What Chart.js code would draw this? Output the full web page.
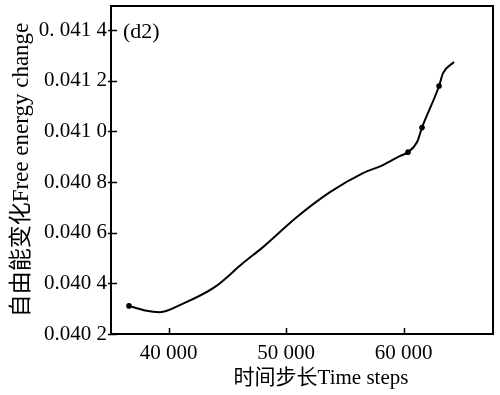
<!DOCTYPE html>
<html><head><meta charset="utf-8">
<script src="https://cdn.jsdelivr.net/npm/chart.js@4/dist/chart.umd.min.js"></script>
<style>html,body{margin:0;padding:0;background:#fff}#wrap{width:500px;height:395px}</style>
</head><body><div id="wrap"><canvas id="c" width="500" height="395"></canvas></div>
<script>
const timeSteps = [36630, 38000, 39270, 41140, 43950, 46330, 48030, 50920, 53730, 56540, 58240, 59690, 60370, 61140, 61560, 63010, 63350, 64280];
const freeEnergy = [0.040311, 0.040293, 0.040286, 0.040318, 0.040386, 0.040480, 0.040543, 0.040662, 0.040760, 0.040835, 0.040867, 0.040903, 0.040918, 0.040958, 0.041015, 0.041179, 0.041230, 0.041274];
const markerIdx = [0, 12, 14, 15];
const xTickValues = [40000, 50000, 60000];
const xTickLabels = ['40 000', '50 000', '60 000'];
const yTickValues = [0.0402, 0.0404, 0.0406, 0.0408, 0.0410, 0.0412, 0.0414];
const yTickLabels = ['0.040 2', '0.040 4', '0.040 6', '0.040 8', '0.041 0', '0.041 2', '0. 041 4'];
const panelLabel = '(d2)';
const xTitle = '时间步长Time steps';
const yTitle = '自由能变化Free energy change';

const FONT = "'Liberation Serif','Noto Sans CJK SC',serif";
Chart.defaults.font.family = FONT;
Chart.defaults.color = '#000';

const points = timeSteps.map((x, i) => ({x, y: freeEnergy[i]}));
const radii = timeSteps.map((_, i) => markerIdx.includes(i) ? 2.8 : 0);

const framePlugin = {
  id: 'frame',
  afterDraw(chart) {
    const {ctx, chartArea: a, scales} = chart;
    ctx.save();
    ctx.strokeStyle = '#000';
    ctx.lineWidth = 2;
    ctx.strokeRect(a.left, a.top, a.right - a.left, a.bottom - a.top);
    ctx.lineWidth = 1.5;
    ctx.beginPath();
    xTickValues.forEach(v => {
      const px = Math.round(scales.x.getPixelForValue(v)) + 0.5;
      ctx.moveTo(px, a.bottom); ctx.lineTo(px, a.bottom - 6);
    });
    yTickValues.forEach(v => {
      const py = Math.round(scales.y.getPixelForValue(v)) + 0.5;
      ctx.moveTo(a.left - 3, py); ctx.lineTo(a.left + 6, py);
    });
    ctx.stroke();
    ctx.fillStyle = '#000';
    ctx.font = '22px ' + FONT;
    ctx.textAlign = 'left';
    ctx.textBaseline = 'middle';
    ctx.fillText(panelLabel, a.left + 12, a.top + 26);
    ctx.font = '21px ' + FONT;
    ctx.textAlign = 'center';
    ctx.fillText(xTitle, 321, 378);
    ctx.restore();
  }
};

new Chart(document.getElementById('c'), {
  type: 'line',
  data: {
    datasets: [{
      data: points,
      borderColor: '#000',
      borderWidth: 2,
      pointRadius: radii,
      pointBackgroundColor: '#000',
      pointBorderColor: '#000',
      pointBorderWidth: 0,
      cubicInterpolationMode: 'monotone',
      fill: false
    }]
  },
  options: {
    responsive: false,
    animation: false,
    devicePixelRatio: 1,
    layout: {padding: {top: 6, right: 7, left: 0, bottom: 0}},
    plugins: {legend: {display: false}, tooltip: {enabled: false}},
    scales: {
      x: {
        type: 'linear', position: 'bottom', min: 35100, max: 67600,
        afterBuildTicks: s => { s.ticks = xTickValues.map(v => ({value: v})); },
        afterFit: s => { s.height = 61; s.paddingLeft = 0; s.paddingRight = 0; },
        grid: {display: false, drawTicks: false},
        border: {display: false},
        ticks: {
          padding: 7, maxRotation: 0, autoSkip: false,
          font: {size: 21}, color: '#000',
          callback: v => { const i = xTickValues.indexOf(v); return i >= 0 ? xTickLabels[i] : ''; }
        }
      },
      y: {
        type: 'linear', position: 'left', min: 0.0402, max: 0.041495,
        afterBuildTicks: s => { s.ticks = yTickValues.map(v => ({value: v})); },
        afterFit: s => { s.width = 111; s.paddingTop = 0; s.paddingBottom = 0; },
        grid: {display: false, drawTicks: false},
        border: {display: false},
        title: {display: true, text: yTitle, font: {size: 23}, color: '#000', padding: {top: 8, bottom: 0}},
        ticks: {
          padding: 4, autoSkip: false,
          font: {size: 21}, color: '#000',
          callback: (v, i) => yTickLabels[i]
        }
      }
    }
  },
  plugins: [framePlugin]
});
</script>
</body></html>
